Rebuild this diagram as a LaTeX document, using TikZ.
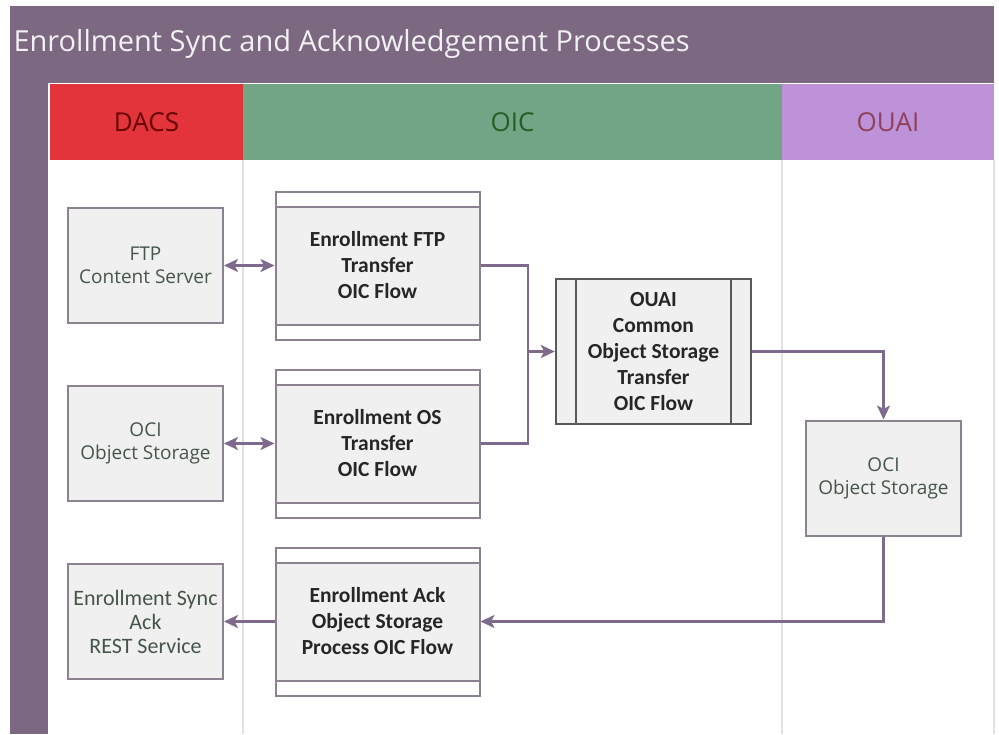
\documentclass[tikz,border=0pt]{standalone}
\usepackage{fontspec}
\setmainfont{Open Sans}
\newfontfamily\boxfont{Carlito}
\usetikzlibrary{arrows.meta,positioning}

\definecolor{plum}{HTML}{7D6882}
\definecolor{dacsred}{HTML}{E2343A}
\definecolor{oicgreen}{HTML}{72A585}
\definecolor{ouaililac}{HTML}{BD92D9}
\definecolor{boxgray}{HTML}{F0F0F0}
\definecolor{edgegray}{HTML}{8C8290}
\definecolor{flowline}{HTML}{7E6A8C}
\definecolor{labelgreen}{HTML}{46554A}
\definecolor{lanegray}{HTML}{E2E0E4}

\begin{document}
\begin{tikzpicture}[x=1pt,y=-1pt,node distance=178pt and 232pt,on grid,
    >={Stealth[length=14pt,width=13pt,inset=3.5pt]}]
  \tikzstyle{store}=[rectangle,draw=edgegray,line width=2pt,fill=boxgray,
        minimum width=155pt,minimum height=115pt,align=center,text=labelgreen,
        font=\fontsize{19}{23}\selectfont]
  \tikzstyle{flow}=[rectangle,draw=edgegray,line width=2pt,fill=white,
        minimum width=204pt,minimum height=148pt,align=center,text=black!85,
        font=\boxfont\bfseries\fontsize{21.5}{26}\selectfont,
        path picture={
          \fill[boxgray] ([yshift=-15pt]path picture bounding box.north west)
             rectangle ([yshift=15pt]path picture bounding box.south east);
          \draw[edgegray,line width=2pt]
             ([yshift=-15pt]path picture bounding box.north west) -- ([yshift=-15pt]path picture bounding box.north east)
             ([yshift=15pt]path picture bounding box.south west) -- ([yshift=15pt]path picture bounding box.south east);}]
  \tikzstyle{subflow}=[rectangle,draw=black!65,line width=2.4pt,fill=boxgray,
        minimum width=195pt,minimum height=145pt,align=center,text=black!85,
        font=\boxfont\bfseries\fontsize{21.5}{26}\selectfont,
        path picture={
          \draw[black!65,line width=2.4pt]
             ([xshift=20pt]path picture bounding box.north west) -- ([xshift=20pt]path picture bounding box.south west)
             ([xshift=-20pt]path picture bounding box.north east) -- ([xshift=-20pt]path picture bounding box.south east);}]
  \tikzstyle{link}=[flowline,line width=2.3pt]
  \tikzstyle{lane}=[font=\fontsize{26}{30}\selectfont]

  \useasboundingbox (0,0) rectangle (999,734);

  % pool and lanes
  \fill[plum] (10,6) rectangle (994,83);
  \fill[plum] (10,83) rectangle (48,734);
  \fill[dacsred] (50,84) rectangle (243,160);
  \fill[oicgreen] (243,84) rectangle (782,160);
  \fill[ouaililac] (782,84) rectangle (994,160);
  \draw[lanegray,line width=1.2pt] (243,160) -- (243,734) (782,160) -- (782,734) (994,160) -- (994,734);

  \node[anchor=west,text=white!90!plum,font=\fontsize{29}{33}\selectfont] (title) at (10,44) {Enrollment Sync and Acknowledgement Processes};
  \node[lane,text=red!40!black] (dacs) at (146.5,122) {DACS};
  \node[lane,text=green!25!black!85] (oic) at (512.5,122) {OIC};
  \node[lane,text=purple!55!black!75] (ouai) at (888,122) {OUAI};

  % DACS side
  \node[store] (ftp) at (145.5,265.5) {FTP\\Content Server};
  \node[store] (ocileft) [below=of ftp] {OCI\\Object Storage};
  \node[store,font=\boxfont\fontsize{22}{24}\selectfont] (syncack) [below=of ocileft] {Enrollment Sync\\Ack\\REST Service};

  % OIC flows
  \node[flow] (ftpflow) [right=of ftp] {Enrollment FTP\\Transfer\\OIC Flow};
  \node[flow] (osflow) [right=of ocileft] {Enrollment OS\\Transfer\\OIC Flow};
  \node[flow] (ackflow) [right=of syncack] {Enrollment Ack\\Object Storage\\Process OIC Flow};
  \node[subflow] (common) at (653.5,351.5) {OUAI\\Common\\Object Storage\\Transfer\\OIC Flow};

  % OUAI side
  \node[store] (ociright) at (883.5,478) {OCI\\Object Storage};

  \coordinate (join) at (528,351.5);
  \draw[link,<->] (ftp) -- (ftpflow);
  \draw[link,<->] (ocileft) -- (osflow);
  \draw[link] (ftpflow.east) -| (join);
  \draw[link] (osflow.east) -| (join);
  \draw[link,->] (join) -- (common);
  \draw[link,->] (common.east) -| (ociright.north);
  \draw[link,->] (ociright.south) |- (ackflow.east);
  \draw[link,->] (ackflow) -- (syncack);

\end{tikzpicture}
\end{document}
